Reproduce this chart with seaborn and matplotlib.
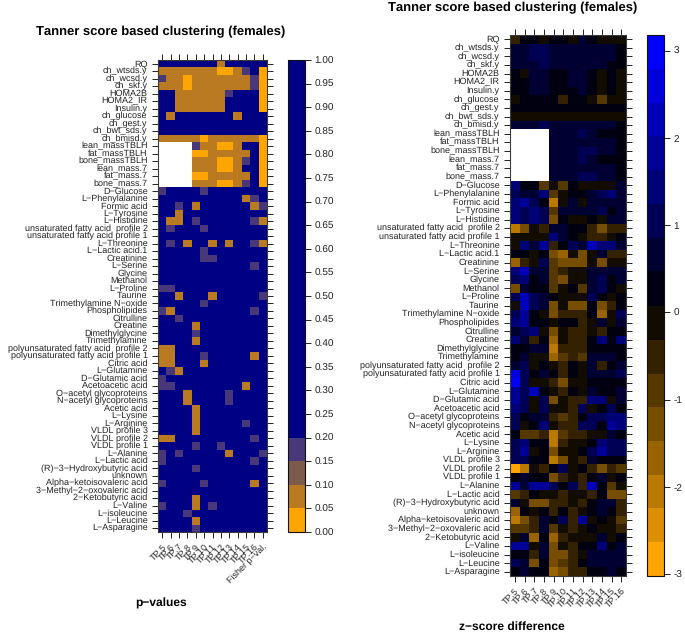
import numpy as np
import pandas as pd
import matplotlib
matplotlib.use("Agg")
import matplotlib.pyplot as plt
from matplotlib.colors import ListedColormap, BoundaryNorm
import seaborn as sns

rows = ["RQ", "ch_wtsds.y", "ch_wcsd.y", "ch_skf.y", "HOMA2B", "HOMA2_IR", "Insulin.y", "ch_glucose",
        "ch_gest.y", "ch_bwt_sds.y", "ch_bmisd.y", "lean_massTBLH", "fat_massTBLH", "bone_massTBLH",
        "lean_mass.7", "fat_mass.7", "bone_mass.7", "D−Glucose", "L−Phenylalanine", "Formic acid",
        "L−Tyrosine", "L−Histidine", "unsaturated fatty acid  profile 2", "unsaturated fatty acid profile 1",
        "L−Threonine", "L−Lactic acid.1", "Creatinine", "L−Serine", "Glycine", "Methanol", "L−Proline",
        "Taurine", "Trimethylamine N−oxide", "Phospholipides", "Citrulline", "Creatine", "Dimethylglycine",
        "Trimethylamine", "polyunsaturated fatty acid  profile 2", "polyunsaturated fatty acid profile 1",
        "Citric acid", "L−Glutamine", "D−Glutamic acid", "Acetoacetic acid", "O−acetyl glycoproteins",
        "N−acetyl glycoproteins", "Acetic acid", "L−Lysine", "L−Arginine", "VLDL profile 3", "VLDL profile 2",
        "VLDL profile 1", "L−Alanine", "L−Lactic acid", "(R)−3−Hydroxybutyric acid", "unknown",
        "Alpha−ketoisovaleric acid", "3−Methyl−2−oxovaleric acid", "2−Ketobutyric acid", "L−Valine",
        "L−isoleucine", "L−Leucine", "L−Asparagine"]
tp_cols = ["TP.5", "TP.6", "TP.7", "TP.8", "TP.9", "TP.10", "TP.11", "TP.12", "TP.13", "TP.14", "TP.15", "TP.16"]
p_cols = tp_cols + ["Fisher p−val."]

# estimated p-values: o <.05, b <.10, p <.20, n not significant, w missing
o, b, p, n, w = 0.02, 0.07, 0.17, 0.6, float("nan")
p_values = [
    [n,n,n,n,n,n,n,b,n,n,n,n,n],
    [b,b,b,b,b,b,b,o,o,b,p,n,o],
    [p,b,b,o,b,b,b,b,b,b,b,p,o],
    [b,b,b,o,b,b,b,b,b,b,b,p,o],
    [n,n,b,b,b,b,b,b,p,n,n,n,o],
    [n,n,b,b,b,b,b,b,n,n,n,n,o],
    [n,n,b,b,b,b,b,b,n,n,n,n,o],
    [n,b,n,n,n,n,n,n,n,b,n,n,n],
    [n,n,n,n,n,n,n,n,n,n,n,n,n],
    [n,n,n,n,n,n,n,n,n,n,n,n,n],
    [b,b,b,b,b,o,b,b,b,b,b,b,o],
    [w,w,w,w,p,b,b,o,o,b,n,n,o],
    [w,w,w,w,o,o,b,b,b,b,b,n,o],
    [w,w,w,w,b,b,b,o,o,b,p,n,o],
    [w,w,w,w,b,b,b,o,o,b,n,n,o],
    [w,w,w,w,o,o,b,b,b,b,b,n,o],
    [w,w,w,w,b,b,b,o,o,b,p,n,o],
    [p,n,n,n,n,p,n,n,n,n,n,n,n],
    [n,n,n,n,n,n,n,n,n,n,b,p,n],
    [n,n,p,n,b,n,n,n,n,n,n,b,p],
    [n,n,b,n,n,n,n,n,n,n,n,n,n],
    [n,b,b,n,p,n,n,n,n,n,n,p,b],
    [n,p,n,n,n,p,n,n,n,n,n,n,n],
    [n,n,n,n,n,n,n,n,n,n,n,n,n],
    [n,p,n,b,n,n,b,n,b,n,n,p,b],
    [n,n,n,n,n,p,n,n,n,n,n,n,n],
    [n,n,n,n,n,p,p,n,n,n,n,n,n],
    [n,n,n,n,n,n,n,n,n,n,n,p,n],
    [n,n,n,n,n,n,n,n,n,n,n,n,n],
    [n,n,n,n,n,n,n,n,n,n,n,n,n],
    [p,p,n,n,n,n,n,n,n,n,n,n,n],
    [n,n,b,n,n,n,b,n,n,n,n,n,p],
    [n,n,n,n,n,p,n,n,n,n,n,n,n],
    [p,b,n,n,n,n,n,n,n,n,n,p,n],
    [n,n,p,n,n,n,n,n,n,n,n,n,n],
    [n,n,n,n,b,n,n,n,n,n,n,n,n],
    [n,n,n,n,p,n,n,n,n,n,n,n,n],
    [n,n,n,n,b,n,n,n,n,n,n,n,n],
    [b,b,n,n,n,n,n,n,n,n,n,n,n],
    [b,b,n,n,n,p,n,n,n,n,n,b,n],
    [b,b,n,n,n,b,n,n,n,n,n,n,n],
    [n,p,b,n,n,n,n,n,n,n,n,n,n],
    [p,n,n,n,n,n,n,n,n,n,n,n,n],
    [p,p,n,n,n,n,n,n,n,n,b,n,n],
    [n,n,n,b,n,n,n,n,p,n,n,n,n],
    [n,n,n,b,n,n,n,n,p,n,n,n,n],
    [n,n,n,n,b,n,n,n,n,n,n,n,n],
    [n,n,n,n,b,n,n,n,n,n,n,n,n],
    [n,n,n,n,b,n,n,n,n,n,p,n,n],
    [n,n,n,n,b,n,n,n,n,n,n,n,n],
    [b,b,n,n,n,n,n,n,n,n,n,p,n],
    [n,n,n,n,p,n,n,p,n,n,n,n,n],
    [p,n,p,n,n,n,n,n,b,n,n,n,p],
    [p,n,n,n,n,n,n,n,n,n,n,p,n],
    [n,n,n,n,p,n,n,n,n,n,n,n,n],
    [n,n,n,n,n,n,n,n,n,n,n,n,n],
    [p,n,n,n,n,p,n,n,n,n,n,b,n],
    [n,n,n,n,n,n,n,n,n,n,n,n,n],
    [n,n,n,n,b,n,n,n,n,n,n,n,n],
    [p,n,n,n,b,n,p,n,n,n,n,n,n],
    [n,n,n,p,n,n,n,n,n,n,n,n,n],
    [n,n,n,n,b,n,n,n,n,n,n,n,n],
    [n,n,n,n,p,n,n,n,n,n,n,n,n],
]

# estimated z-score differences
z_scores = [
    [-.5,.3,.3,-.1,.3,.3,-.1,.7,.3,-.1,-.1,-.1],
    [.7,.7,1.0,1.0,.7,.7,.7,.7,.7,.7,.7,.3],
    [.7,.7,1.0,1.0,.7,.7,.7,.7,.7,.7,.7,.3],
    [.7,.7,.7,1.0,.7,.7,.7,.7,.7,.7,.3,.3],
    [.3,-.1,.7,.7,.3,.3,.7,.7,.3,-.1,.3,-.1],
    [.3,.3,.7,.7,.3,.3,.7,.7,.3,-.1,.3,-.1],
    [.3,.3,.7,.7,.3,.3,.3,.7,.3,-.1,.3,-.1],
    [-.1,.3,.3,.3,.3,-.5,.3,.3,-.1,-.9,-.1,-.1],
    [.3,.3,.3,.3,.3,.3,.3,.3,.3,.3,.3,.3],
    [-.1,-.1,-.1,-.1,-.1,-.1,-.1,-.1,-.1,-.1,-.1,-.1],
    [.7,.7,.7,1.0,.7,.7,.7,.7,.7,.7,.7,.3],
    [w,w,w,w,.7,.7,.7,1.0,.7,.3,.3,.3],
    [w,w,w,w,.7,.7,.7,.7,.7,.7,.7,.3],
    [w,w,w,w,.7,.7,.7,1.0,1.0,.7,.7,.3],
    [w,w,w,w,.7,.7,.7,1.0,.7,.3,.3,.3],
    [w,w,w,w,.7,.7,.7,.7,.7,.7,.7,.3],
    [w,w,w,w,.7,.7,.7,1.0,1.0,.7,.7,.3],
    [1.4,.3,.3,-.9,-.1,-.9,.3,-.1,-.1,-.1,-.1,.7],
    [1.0,.7,.7,1.4,-.9,-.1,.3,.3,.7,1.0,1.4,.7],
    [1.4,1.8,1.0,.3,-2.0,-.1,.7,-.1,.7,.7,.7,.7],
    [1.4,1.0,1.4,1.0,-.9,.7,.7,.7,.7,1.0,.3,.7],
    [1.4,1.0,1.4,1.0,-1.3,.3,-.1,-.1,.3,-.1,.7,.7],
    [-2.0,-1.3,-.1,-.5,.7,.7,.3,.3,-.5,-1.3,-.5,-.5],
    [-.1,-.1,-.1,-.1,1.4,.7,.3,-.1,-.5,-.5,-.1,.3],
    [-.1,1.4,.7,1.8,-.5,.3,1.0,.7,2.2,1.4,1.4,.7],
    [.3,.3,-.1,.3,-1.3,-1.7,-.1,-1.3,-.1,.7,-.5,-.5],
    [-1.7,-.5,-.1,1.0,-.9,-1.3,-1.3,-1.3,-.1,-1.3,-.1,-.1],
    [1.4,2.2,.7,.7,-.9,-.5,-.1,-.1,.7,.7,.7,.7],
    [1.0,1.4,.3,.7,-.9,-1.3,-.1,-.1,.7,1.0,.3,.7],
    [-1.3,.7,.3,.3,-.9,-.1,.3,-.9,.7,1.0,.3,-.1],
    [1.0,2.2,1.0,.7,.3,-.1,-.1,-.1,1.0,.3,-.1,.3],
    [-.1,2.2,1.0,.7,-1.3,-.1,-1.3,-1.3,.3,-1.3,-.5,.3],
    [1.0,1.8,.3,-.1,-1.3,-.5,-.5,-.5,.3,-1.7,-.1,1.0],
    [1.4,1.8,.3,.3,-.1,.3,.3,-.5,-.1,.7,-.1,.7],
    [.7,1.0,1.4,-.1,-1.3,-.1,-.5,-.5,-.1,-.5,.3,.3],
    [1.4,.7,-.5,.3,-1.7,-.1,-.5,-.5,.3,1.4,.3,1.4],
    [.3,.3,.7,.7,-2.0,-.5,-.5,-.5,.3,.3,.3,.3],
    [.3,.7,-.1,-.1,-1.7,-.9,-.5,-.9,.7,.7,.7,.3],
    [.7,1.0,-.1,.3,-.1,-.5,.3,-.1,.7,-.5,.3,.7],
    [2.6,1.0,.3,.7,.3,-.5,.3,-.1,.7,.7,.7,1.0],
    [3.0,1.0,-.1,-.1,-.5,-1.3,-.1,-.1,.3,.3,.3,.3],
    [1.8,1.0,2.2,.3,-.1,-.5,.3,-.1,.7,.3,.3,.7],
    [1.8,1.0,-.1,1.0,-1.3,-.1,-.5,-.5,1.4,1.4,-.1,.7],
    [1.4,1.0,-.1,1.0,-.1,-.1,-.5,1.0,-.1,.3,1.0,.3],
    [1.0,.3,.7,.7,-.5,-.9,-.5,.3,1.0,1.0,1.4,1.4],
    [1.0,-.1,.3,1.4,-.1,-.5,-.5,1.0,1.0,.3,1.8,1.4],
    [.3,-.9,-.9,-.5,-2.0,-.9,-.5,-.5,-.1,-.1,.7,.3],
    [1.0,1.4,.3,.3,-2.0,-.5,-.1,-.1,.3,1.4,1.0,1.0],
    [1.0,1.8,-.1,.3,-1.3,-.1,-.1,.3,1.0,1.8,1.0,1.0],
    [1.0,1.0,.3,.3,-2.0,-1.3,-.1,-.5,.7,.3,.3,.3],
    [-2.8,-2.0,-.1,-.5,.3,1.0,-.1,.3,-.5,-1.3,-.5,-.9],
    [.3,.7,.3,.3,-1.3,-.5,-.1,-.5,.3,.7,-.1,.3],
    [1.8,.7,1.8,1.8,1.0,.3,1.0,-.5,2.2,.3,-.9,-.1],
    [-.9,-.5,.3,-.1,-.1,-.5,-.1,-.1,-.5,.3,-1.3,-1.3],
    [.7,-.1,-1.3,-1.3,-.5,-.5,-.1,-.5,.3,.7,.7,-.5],
    [-1.7,.3,-.1,.3,-.5,.3,-.5,-.1,.3,.7,.3,-.5],
    [-2.0,-1.3,-.5,.7,.3,1.0,-.5,1.8,-.1,.3,-.1,-.9],
    [-.9,-.9,-.5,.7,-.9,-.1,-.5,-.1,.3,-.1,-.1,-.5],
    [-.1,.7,-1.7,.3,-1.7,-.5,-.1,-.1,-.1,.7,-.1,.3],
    [1.8,1.8,-.1,.7,-1.3,-.1,-.5,.3,.3,1.4,.3,.7],
    [.3,.3,-.5,.7,-1.3,-1.3,-.5,-.1,.7,.7,.7,.7],
    [1.0,.7,-1.3,.3,-1.3,-.9,-.5,.3,.7,.7,.7,.7],
    [.3,.7,.3,.3,-1.7,-1.3,-.5,-.5,.3,.3,.7,.3],
]

p_bounds = [0, .05, .10, .15, .20, .25, .30, .35, .40, .45, .50, .55, .60, .65, .70, .75, .80, .85, .90, .95, 1.0]
p_colors = ["#FFA500", "#B97A22", "#7C5A4C", "#48387A"] + ["#000085"] * 16
p_ticks = [i / 20 for i in range(21)]
z_bounds = [-3.02, -2.63, -2.245, -1.86, -1.47, -1.08, -.70, -.31, .08, .47, .85, 1.24, 1.63, 2.02, 2.40, 2.79, 3.18]
z_colors = ["#FFA500", "#DD8F00", "#BB7900", "#996300", "#774D00", "#553700", "#332100", "#110B00",
            "#000011", "#000033", "#000055", "#000077", "#000099", "#0000BB", "#0000DD", "#0000FF"]
z_ticks = [-3, -2, -1, 0, 1, 2, 3]

sns.set_theme(style="white")
plt.rcParams["font.family"] = ["Liberation Sans", "DejaVu Sans"]
plt.rcParams["text.color"] = "black"
plt.rcParams["text.hinting"] = "no_hinting"
plt.rcParams["text.hinting_factor"] = 1

W, H = 685, 634
fig = plt.figure(figsize=(W / 100, H / 100), dpi=100, facecolor="white")


def box(x0, y0, x1, y1):
    return fig.add_axes([x0 / W, 1 - y1 / H, (x1 - x0) / W, (y1 - y0) / H])


def panel(data, cols, bounds, colors, ticks, hm, cb, fmt, lab):
    ax, cax = box(*hm), box(*cb)
    df = pd.DataFrame(data, index=rows, columns=cols)
    sns.heatmap(df, ax=ax, cbar_ax=cax, cmap=ListedColormap(colors), norm=BoundaryNorm(bounds, len(colors)),
                xticklabels=True, yticklabels=True, cbar_kws={"ticks": ticks, "format": fmt, "spacing": "proportional"})
    for s in ax.spines.values():
        s.set_visible(True)
        s.set_color("#3a3a3a")
        s.set_linewidth(0.8)
    ax.tick_params(axis="both", which="major", length=4.3, width=0.7, color="#222222", top=True, right=True,
                   left=True, bottom=True, pad=3.2)
    ax.tick_params(axis="y", labelsize=lab, labelcolor="#222222", rotation=0)
    ax.tick_params(axis="x", labelsize=lab, labelcolor="#222222")
    ax.set_xlabel("")
    ax.set_ylabel("")
    plt.setp(ax.get_xticklabels(), rotation=45, ha="right", rotation_mode="anchor")
    cbar = ax.collections[0].colorbar
    cbar.minorticks_off()
    cbar.outline.set_visible(True)
    cbar.outline.set_edgecolor("#111111")
    cbar.outline.set_linewidth(0.8)
    cax.tick_params(axis="y", which="major", right=True, length=4, width=0.7, color="#222222", labelsize=7.2,
                    labelcolor="#222222", pad=3)
    return ax


panel(p_values, p_cols, p_bounds, p_colors, p_ticks, (158, 60, 267, 532), (288, 60, 305, 532), "%.2f", 6.6)
panel(z_scores, tp_cols, z_bounds, z_colors, z_ticks, (510, 35, 626, 576), (647, 35, 664, 576), "%.0f", 6.5)

title = "Tanner score based clustering (females)"
fig.text(161 / W, 1 - 32 / H, title, fontsize=9.6, fontweight="bold", ha="center", va="center")
fig.text(512.5 / W, 1 - 8 / H, title, fontsize=9.6, fontweight="bold", ha="center", va="center")
fig.text(161 / W, 1 - 603 / H, "p−values", fontsize=8.3, fontweight="bold", ha="center", va="center")
fig.text(512 / W, 1 - 627 / H, "z−score difference", fontsize=8.3, fontweight="bold", ha="center", va="center")

fig.savefig("out.png", dpi=100, facecolor="white")
